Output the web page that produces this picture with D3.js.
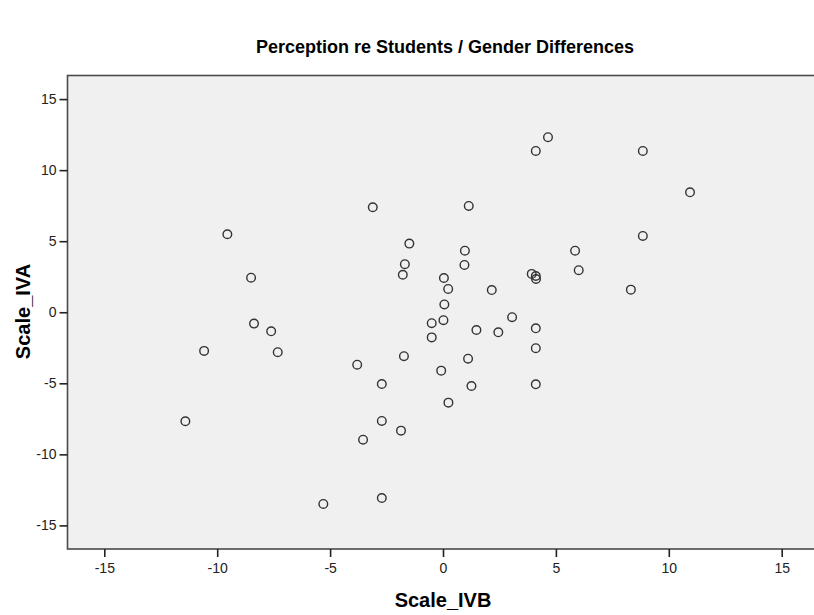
<!DOCTYPE html>
<html><head><meta charset="utf-8">
<script src="https://cdn.jsdelivr.net/npm/d3@7"></script>
<style>
body{margin:0;background:#fff;}
svg text{font-family:"Liberation Sans",Arial,sans-serif;}
</style></head>
<body><svg id="c" width="814" height="615"></svg>
<script>
const title = "Perception re Students / Gender Differences";
const xLabel = "Scale_IVB";
const yLabel = "Scale_IVA";
const xTicks = [-15,-10,-5,0,5,10,15];
const yTicks = [-15,-10,-5,0,5,10,15];
const scaleIVB = [4.65,4.11,8.85,10.94,1.14,-3.11,8.85,-9.55,-1.49,0.97,5.85,-1.69,0.95,-1.78,0.04,3.93,4.11,4.12,6.01,-8.50,0.23,2.16,8.32,0.06,0.02,-0.50,3.06,-8.37,-7.61,1.48,2.45,4.11,-0.50,-10.58,-7.32,4.11,-1.73,1.11,-3.80,-0.08,1.26,4.11,-2.71,0.24,-11.41,-2.71,-1.86,-3.54,-2.71,-5.30];
const scaleIVA = [12.32,11.35,11.35,8.44,7.48,7.39,5.37,5.49,4.83,4.33,4.33,3.38,3.33,2.64,2.41,2.70,2.55,2.34,2.96,2.43,1.64,1.56,1.59,0.55,-0.56,-0.77,-0.35,-0.80,-1.34,-1.25,-1.41,-1.13,-1.77,-2.72,-2.81,-2.53,-3.09,-3.27,-3.69,-4.11,-5.19,-5.07,-5.05,-6.36,-7.67,-7.65,-8.33,-8.97,-13.07,-13.49];

const svg = d3.select("#c");
const L = 67.5, T = 75.5, B = 549, R = 818.5;
const x = d3.scaleLinear().domain([-16.63, 16.63]).range([L, R]);
const y = d3.scaleLinear().domain([-16.66, 16.66]).range([B, T]);
const fmt = d => String(d);

svg.append("rect").attr("x", L).attr("y", T).attr("width", R - L).attr("height", B - T)
  .attr("fill", "#f0f0f0").attr("stroke", "#4a4a4a").attr("stroke-width", 1.6);

const xa = svg.append("g").attr("transform", `translate(0,${B})`)
  .call(d3.axisBottom(x).tickValues(xTicks).tickSize(8).tickSizeOuter(0).tickPadding(6).tickFormat(fmt));
const ya = svg.append("g").attr("transform", `translate(${L},0)`)
  .call(d3.axisLeft(y).tickValues(yTicks).tickSize(8).tickSizeOuter(0).tickPadding(3).tickFormat(fmt));
[xa, ya].forEach(a => {
  a.select(".domain").remove();
  a.selectAll(".tick line").attr("stroke", "#222").attr("stroke-width", 1.6);
  a.selectAll(".tick text").attr("fill", "#222").style("font-size", "14px");
});

svg.append("g").selectAll("circle").data(scaleIVB.map((v, i) => [v, scaleIVA[i]])).join("circle")
  .attr("cx", d => x(d[0])).attr("cy", d => y(d[1])).attr("r", 4.3)
  .attr("fill", "none").attr("stroke", "#333").attr("stroke-width", 1.4);

svg.append("text").attr("x", 445).attr("y", 53).attr("text-anchor", "middle")
  .style("font-size", "18px").style("font-weight", "bold").attr("fill", "#000").text(title);
svg.append("text").attr("x", 443).attr("y", 607).attr("text-anchor", "middle")
  .style("font-size", "20px").style("font-weight", "bold").attr("fill", "#000").text(xLabel);
svg.append("text").attr("transform", "translate(30,311.5) rotate(-90)").attr("text-anchor", "middle")
  .style("font-size", "20px").style("font-weight", "bold").attr("fill", "#000").text(yLabel);
</script></body></html>
